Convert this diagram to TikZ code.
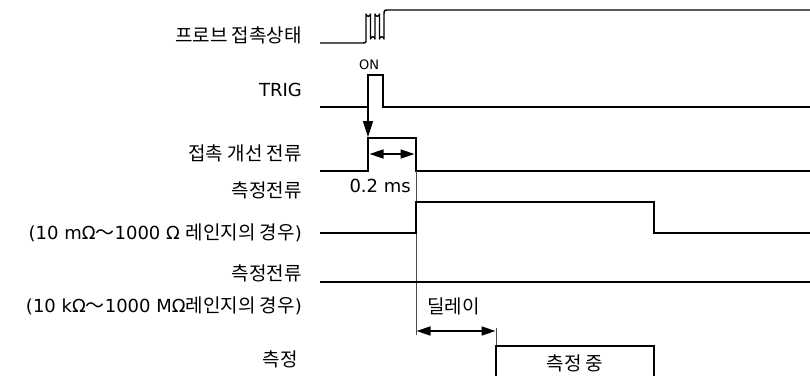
\documentclass[tikz,border=0pt]{standalone}
\usepackage{fontspec}
\setmainfont{DejaVu Sans}
\newfontfamily\kr{Noto Sans CJK KR}
\usetikzlibrary{arrows.meta}
\tikzset{
  sig/.style={line width=1.6pt, line join=miter},
  spring/.style={line width=1.4pt, line join=round},
  thin/.style={line width=0.5pt, draw=black!70},
  lbl/.style={anchor=east, inner sep=0pt, font=\fontsize{18}{21}\selectfont},
  txt/.style={inner sep=0pt, font=\fontsize{18}{21}\selectfont},
  darr/.style={line width=1.6pt, {Triangle[length=14pt,width=9pt]}-{Triangle[length=14pt,width=9pt]}},
  darrow/.style={line width=1.6pt, -{Triangle[length=16pt,width=10pt]}}
}
\newcommand{\K}[1]{{\kr\fontsize{19}{21}\selectfont #1}}
\begin{document}
\begin{tikzpicture}[x=1pt,y=-1pt]
\useasboundingbox (0,0) rectangle (810,375);
% labels
\node[lbl] (l1) at (302,35) {\K{프로브 접촉상태}};
\node[lbl] (l2) at (302,90) {TRIG};
\node[lbl] (l3) at (302,153) {\K{접촉 개선 전류}};
\node[lbl] (l4a) at (302,190) {\K{측정전류}};
\node[lbl] (l4b) at (302,233) {(10 mΩ\K{～}1000 Ω \K{레인지의 경우})};
\node[lbl] (l5a) at (302,273) {\K{측정전류}};
\node[lbl] (l5b) at (302,306) {(10 kΩ\K{～}1000 MΩ\K{레인지의 경우})};
\node[lbl] (l6) at (298,359) {\K{측정}};
% row 1: probe contact
\coordinate (p1a) at (320,43);
\coordinate (p1b) at (810,10);
\draw[spring] (p1a) -- (363,43) .. controls (366,43) .. (366,39) -- (366,14)
  arc[start angle=180,end angle=0,radius=2.25] -- (370.5,39)
  arc[start angle=180,end angle=360,radius=2.25] -- (375,14)
  arc[start angle=180,end angle=0,radius=2.25] -- (379.5,39)
  arc[start angle=180,end angle=360,radius=2.25] -- (384,15)
  .. controls (384,10) .. (389,10) -- (p1b);
% row 2: TRIG
\coordinate (p2a) at (320,107);
\coordinate (p2b) at (810,107);
\coordinate (tr) at (368,107);
\coordinate (tip) at (368,137);
\draw[sig] (p2a) -- (tr) -- (368,75) -- (383,75) -- (383,107) -- (p2b);
\node[inner sep=0pt, font=\fontsize{13}{15}\selectfont] (on) at (369,65) {ON};
\draw[darrow] (tr) -- (tip);
% row 3: contact improvement current
\coordinate (p3a) at (320,171);
\coordinate (p3b) at (810,171);
\coordinate (c3l) at (368,138);
\coordinate (c3r) at (416,138);
\draw[sig] (p3a) -- (368,171) -- (c3l) -- (c3r) -- (416,171) -- (p3b);
\coordinate (a3l) at (369.5,154);
\coordinate (a3r) at (414.5,154);
\draw[darr] (a3l) -- (a3r);
\node[txt, anchor=east] (t02) at (411,186) {0.2 ms};
% thin marker
\coordinate (m1t) at (416,171);
\coordinate (m1b) at (416,335);
\draw[thin] (m1t) -- (m1b);
% row 4
\coordinate (p4a) at (320,233);
\coordinate (p4b) at (810,233);
\draw[sig] (p4a) -- (416,233) -- (416,202) -- (654,202) -- (654,233) -- (p4b);
% row 5
\coordinate (p5a) at (320,282);
\coordinate (p5b) at (810,282);
\draw[sig] (p5a) -- (p5b);
% delay
\node[txt] (dl) at (453.5,306) {\K{딜레이}};
\coordinate (d1) at (416.5,331);
\coordinate (d2) at (495.5,331);
\draw[darr] (d1) -- (d2);
\coordinate (m2t) at (496,328);
\coordinate (m2b) at (496,346);
\draw[thin] (m2t) -- (m2b);
% row 6: measuring box
\draw[sig] (496,380) -- (496,346) -- (654,346) -- (654,380);
\node[txt] (meas) at (575,363) {\K{측정 중}};
\end{tikzpicture}
\end{document}
